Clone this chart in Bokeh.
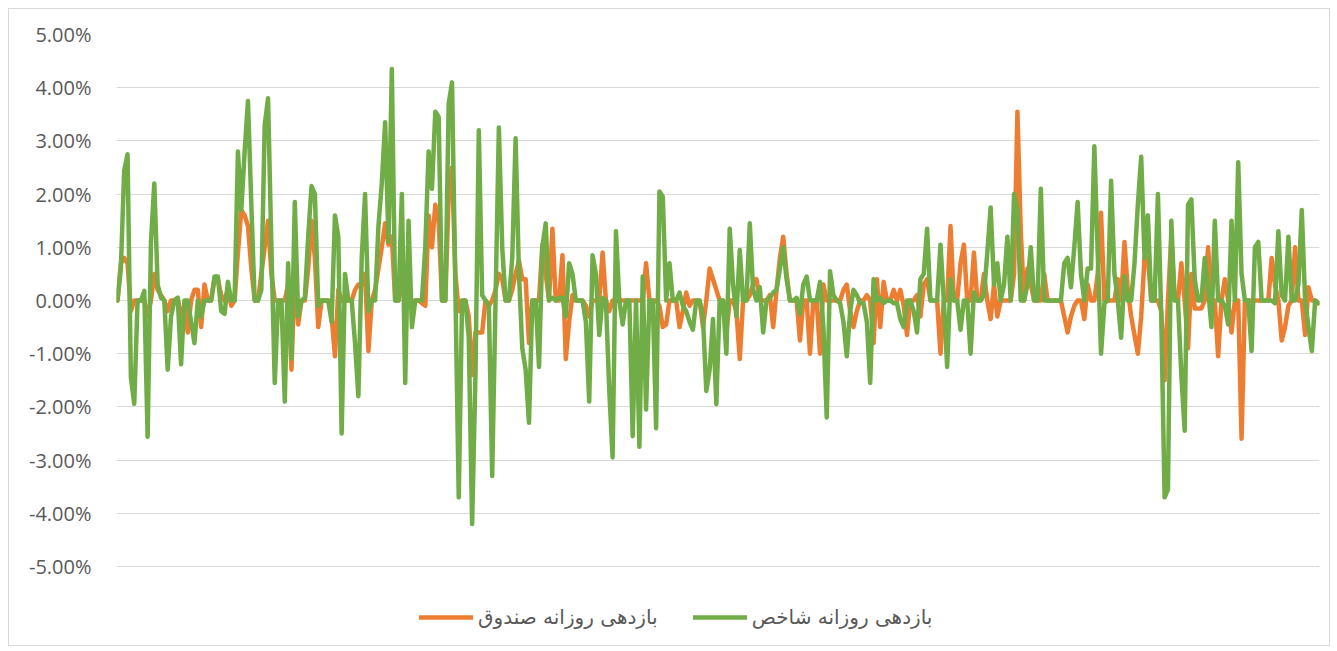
from bokeh.plotting import figure
from bokeh.models import Range1d, FixedTicker, CustomJSTickFormatter, Legend, LegendItem, ColumnDataSource
from bokeh.embed import file_html
from bokeh.resources import INLINE

# Daily returns (%)
index_returns = [
    0.0, 0.6, 2.44, 2.75, -1.44, -1.94, 0.0, 0.0, 0.18, -2.56,
    1.1, 2.2, 0.3, 0.05, 0.0, -1.3, -0.3, 0.0, 0.05, -1.2,
    0.0, 0.0, -0.4, -0.8, 0.0, -0.3, 0.0, 0.0, 0.0, 0.45,
    0.45, -0.2, -0.25, 0.35, 0.0, 0.0, 2.8, 1.7, 2.8, 3.75,
    1.8, 0.0, 0.0, 0.2, 3.3, 3.8, 1.0, -1.55, 0.0, 0.0,
    -1.9, 0.7, -1.1, 1.85, -0.3, 0.0, 0.05, 1.2, 2.15, 2.0,
    -0.1, 0.0, 0.0, 0.0, -0.4, 1.6, 1.2, -2.5, 0.5, 0.0,
    0.0, -0.8, -1.8, 0.8, 2.0, -0.2, 0.0, 0.0, 1.4, 2.2,
    3.35, 1.1, 4.35, 0.0, 0.0, 2.0, -1.55, 1.5, -0.5, 0.0,
    0.0, 0.0, 1.0, 2.8, 2.1, 3.55, 3.45, 0.0, 0.0, 3.7,
    4.1, 0.2, -3.7, 0.0, 0.0, -0.7, -4.2, -1.4, 3.2, 0.1,
    0.0, -0.1, -3.3, 0.0, 3.25, 1.0, 0.0, 0.0, 0.8, 3.05,
    0.5, -0.9, -1.3, -2.3, 0.0, 0.0, -1.25, 1.0, 1.45, 0.0,
    0.05, 0.0, 0.05, 0.05, -0.3, 0.7, 0.5, 0.0, 0.0, 0.0,
    -0.4, -1.9, 0.85, 0.5, -0.65, 0.05, 0.0, -1.7, -2.95, 1.3,
    0.0, -0.45, 0.0, 0.0, -2.55, 0.0, -2.75, 0.45, -2.05, 0.0,
    0.0, -2.4, 2.05, 1.95, 0.0, 0.7, 0.0, 0.0, 0.15, -0.1,
    -0.2, -0.4, -0.55, 0.0, 0.0, -0.3, -1.7, -1.3, -0.35, -1.95,
    0.0, 0.0, -1.0, 1.35, 0.3, -0.3, 0.95, 0.0, 0.0, 1.45,
    0.2, 0.0, 0.25, -0.6, 0.0, 0.05, 0.15, 0.2, 0.6, 1.0,
    0.4, 0.0, 0.0, 0.05, -0.25, 0.3, 0.45, 0.0, 0.0, 0.0,
    0.35, -0.5, -2.2, 0.55, 0.1, 0.0, -0.05, -0.4, -1.05, -0.2,
    0.2, 0.1, -0.05, -0.05, -0.4, -1.55, 0.4, 0.0, 0.05, -0.05,
    0.0, 0.0, -0.05, -0.05, -0.35, -0.5, 0.0, 0.0, -0.2, -0.6,
    0.4, 0.5, 1.35, 0.0, 0.0, 0.0, 1.05, 0.0, -1.25, 0.4,
    0.0, 0.0, -0.55, 0.0, 0.0, -1.0, 0.15, 0.0, 0.0, 0.1,
    0.9, 1.75, 0.3, 0.7, 0.0, 0.3, 1.2, 0.0, 2.0, 1.7,
    0.0, 0.0, 0.3, 1.0, 0.0, 0.0, 2.1, 0.0, 0.0, 0.0,
    0.0, 0.0, 0.0, 0.7, 0.8, 0.25, 1.0, 1.85, 0.5, 0.0,
    0.6, 0.6, 2.9, 0.9, -1.0, -0.05, 0.0, 2.25, 0.5, 0.0,
    -0.7, 0.45, 0.0, 0.0, 0.7, 1.8, 2.7, 0.8, 1.6, 0.0,
    0.0, 2.0, -0.3, -3.7, -3.55, 1.5, 0.0, 0.0, -1.4, -2.45,
    1.8, 1.9, 0.4, 0.0, 0.0, 0.8, 0.2, -0.5, 1.5, 0.0,
    0.0, -0.1, -0.45, 1.5, 0.0, 2.6, 0.5, 0.0, 0.0, -0.95,
    1.0, 1.1, 0.0, 0.0, 0.0, 0.0, -0.05, 1.3, 0.1, 0.0,
    1.2, 0.0, 0.0, 0.3, 1.7, 0.0, -0.5, -0.95, 0.0, -0.05,
]

fund_returns = [
    0.0, 0.7, 0.8, 0.7, -0.2, 0.0, 0.0, 0.0, 0.0, -0.3,
    0.0, 0.5, 0.2, 0.1, 0.0, -0.2, 0.0, 0.0, 0.05, -0.3,
    -0.1, -0.6, 0.0, 0.2, 0.2, -0.5, 0.3, 0.0, 0.0, 0.4,
    0.4, 0.1, 0.0, 0.2, -0.1, 0.0, 0.9, 1.7, 1.6, 1.4,
    0.6, 0.0, 0.0, 0.5, 1.0, 1.5, 0.5, 0.0, 0.0, 0.0,
    0.0, 0.3, -1.3, 0.6, -0.45, 0.0, 0.0, 0.6, 1.5, 0.8,
    -0.5, 0.0, 0.0, 0.0, -0.3, -1.05, 0.2, 0.0, 0.0, 0.0,
    0.0, 0.2, 0.3, 0.3, 0.5, -0.95, 0.0, 0.2, 0.6, 1.0,
    1.45, 1.05, 1.2, 0.0, 0.0, 0.5, -0.2, 0.3, -0.1, 0.0,
    0.0, -0.05, -0.1, 1.6, 1.0, 1.8, 1.5, 0.0, 0.0, 2.0,
    2.5, 0.5, -0.2, 0.0, 0.0, -0.3, -1.4, -0.6, -0.6, -0.6,
    0.0, -0.1, 0.0, 0.2, 0.5, 0.4, 0.0, 0.0, 0.2, 0.5,
    0.75, 0.4, 0.4, -0.8, 0.0, 0.0, 0.0, 1.05, 0.5, 0.0,
    1.35, 0.0, 0.0, 0.85, -1.1, -0.4, 0.1, 0.0, 0.0, 0.0,
    -0.1, -0.3, 0.0, 0.0, 0.0, 0.9, 0.0, -0.2, 0.0, 0.0,
    0.0, 0.0, 0.0, 0.0, 0.0, 0.0, 0.0, 0.0, 0.7, 0.0,
    0.0, 0.0, -0.1, -0.5, -0.45, 0.0, 0.0, 0.0, -0.5, -0.2,
    0.15, -0.1, 0.0, 0.0, 0.0, -0.5, 0.0, 0.6, 0.4, 0.2,
    0.0, 0.0, -0.6, 0.0, 0.0, -0.2, -1.1, 0.0, 0.0, 0.1,
    0.3, 0.4, 0.0, 0.0, 0.0, 0.1, -0.5, 0.2, 0.8, 1.2,
    0.5, 0.0, 0.0, 0.0, -0.75, 0.0, 0.0, -1.0, 0.0, 0.0,
    -1.0, 0.3, 0.0, 0.0, 0.0, 0.0, 0.0, 0.2, 0.3, -0.2,
    -0.5, -0.2, 0.0, 0.0, 0.1, 0.0, -0.8, 0.4, -0.5, 0.35,
    0.0, 0.0, 0.2, 0.0, 0.2, -0.1, -0.65, 0.0, 0.0, 0.1,
    -0.3, 0.3, 0.4, 0.0, 0.0, 0.0, -1.0, 0.0, 0.0, 1.4,
    0.0, 0.0, 0.7, 1.05, 0.0, 0.0, 0.9, 0.0, 0.0, 0.5,
    0.0, -0.35, 0.3, -0.3, 0.0, 0.0, 0.0, 0.0, 0.5, 3.55,
    1.3, 0.0, 0.6, 0.3, 0.0, 0.0, 0.0, 0.5, 0.0, 0.0,
    0.0, 0.0, 0.0, -0.3, -0.6, -0.3, -0.1, 0.0, 0.0, -0.35,
    0.3, 0.0, 0.0, 0.5, 1.65, 0.0, 0.0, 0.0, 0.0, 0.4,
    0.0, 1.1, 0.2, -0.3, -0.65, -1.0, -0.3, 0.8, 0.8, 0.0,
    0.0, 0.0, -0.2, -1.5, 0.0, 1.2, 0.0, 0.0, 0.7, 0.0,
    -0.9, 0.5, -0.15, -0.15, -0.15, 0.0, 1.0, 0.0, 0.0, -1.05,
    0.0, 0.4, 0.0, -0.6, 0.0, 0.0, -2.6, 0.0, 0.0, 0.0,
    0.0, 0.0, 0.0, 0.0, 0.0, 0.8, 0.3, 0.0, -0.75, -0.5,
    -0.1, 0.0, 1.0, 0.0, 0.0, -0.65, 0.25, 0.0, 0.0, -0.05,
]

y_ticks = [-5, -4, -3, -2, -1, 0, 1, 2, 3, 4, 5]
fund_label = "بازدهی روزانه صندوق"
index_label = "بازدهی روزانه شاخص"

n = min(len(index_returns), len(fund_returns))
days = list(range(n))

# frame: top at 5%, 53.2 px per 1%; it extends below -5% to hold the legend
top_border = 25
bottom_border = 2
fig_h = 638
px_per_unit = 53.2
frame_h = fig_h - top_border - bottom_border
y_start = 5 - frame_h / px_per_unit

p = figure(width=1322, height=fig_h, output_backend="svg", toolbar_location=None,
           x_range=Range1d(-0.3, n - 1 + 0.3), y_range=Range1d(y_start, 5),
           min_border_left=107, min_border_right=12, min_border_top=top_border,
           min_border_bottom=bottom_border)
p.styles = {"border": "1px solid #d9d9d9", "margin-left": "8px", "margin-top": "8px"}
p.outline_line_color = None
p.background_fill_color = "white"
p.border_fill_color = "white"

p.xaxis.visible = False
p.xgrid.visible = False
p.ygrid.grid_line_color = "#d9d9d9"
p.ygrid.grid_line_width = 1
p.ygrid.ticker = FixedTicker(ticks=y_ticks)

ya = p.yaxis[0]
ya.ticker = FixedTicker(ticks=y_ticks)
ya.formatter = CustomJSTickFormatter(code="return tick.toFixed(2) + '%';")
ya.axis_line_color = None
ya.major_tick_line_color = None
ya.minor_tick_line_color = None
ya.major_label_text_color = "#595959"
ya.major_label_text_font = "Open Sans"
ya.major_label_text_font_size = "20px"
ya.major_label_standoff = 19

src = ColumnDataSource(dict(day=days, fund=fund_returns[:n], idx=index_returns[:n]))
r_fund = p.line("day", "fund", source=src, line_color="#ED7D31", line_width=4.5,
                line_join="round", line_cap="round")
r_idx = p.line("day", "idx", source=src, line_color="#70AD47", line_width=4.5,
               line_join="round", line_cap="round")

legend = Legend(items=[LegendItem(label=fund_label, renderers=[r_fund]),
                       LegendItem(label=index_label, renderers=[r_idx])],
                orientation="horizontal", location=(303, 16))
legend.border_line_color = None
legend.background_fill_alpha = 0
legend.label_text_font = "DejaVu Sans"
legend.label_text_font_size = "20px"
legend.label_text_color = "#595959"
legend.glyph_width = 54
legend.glyph_height = 20
legend.label_standoff = 5
legend.spacing = 35
legend.padding = 4
legend.margin = 0
p.add_layout(legend, "center")

open("out.html", "w").write(file_html(p, INLINE))
